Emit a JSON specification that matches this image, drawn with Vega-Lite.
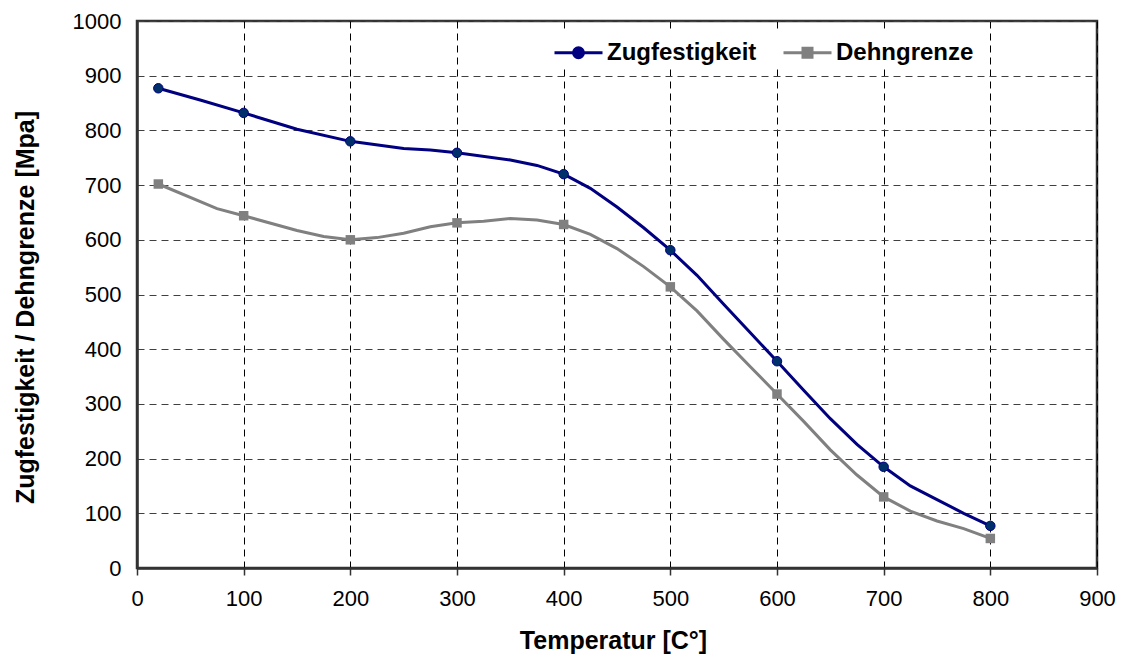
{
  "$schema": "https://vega.github.io/schema/vega-lite/v6.json",
  "width": 960,
  "height": 547,
  "autosize": {"type": "none"},
  "padding": {"left": 137, "top": 21, "right": 24, "bottom": 87},
  "background": "white",
  "config": {
    "font": "Liberation Sans",
    "view": {"stroke": "#333333", "strokeWidth": 2.5}
  },
  "datasets": {
    "kurve": [
      {"Temperatur": 20, "Wert": 877, "Reihe": "Zugfestigkeit"},
      {"Temperatur": 60, "Wert": 855, "Reihe": "Zugfestigkeit"},
      {"Temperatur": 100, "Wert": 832, "Reihe": "Zugfestigkeit"},
      {"Temperatur": 150, "Wert": 802, "Reihe": "Zugfestigkeit"},
      {"Temperatur": 200, "Wert": 780, "Reihe": "Zugfestigkeit"},
      {"Temperatur": 250, "Wert": 767, "Reihe": "Zugfestigkeit"},
      {"Temperatur": 275, "Wert": 764, "Reihe": "Zugfestigkeit"},
      {"Temperatur": 300, "Wert": 759, "Reihe": "Zugfestigkeit"},
      {"Temperatur": 350, "Wert": 746, "Reihe": "Zugfestigkeit"},
      {"Temperatur": 375, "Wert": 736, "Reihe": "Zugfestigkeit"},
      {"Temperatur": 400, "Wert": 720, "Reihe": "Zugfestigkeit"},
      {"Temperatur": 425, "Wert": 694, "Reihe": "Zugfestigkeit"},
      {"Temperatur": 450, "Wert": 660, "Reihe": "Zugfestigkeit"},
      {"Temperatur": 475, "Wert": 622, "Reihe": "Zugfestigkeit"},
      {"Temperatur": 500, "Wert": 581, "Reihe": "Zugfestigkeit"},
      {"Temperatur": 525, "Wert": 535, "Reihe": "Zugfestigkeit"},
      {"Temperatur": 550, "Wert": 482, "Reihe": "Zugfestigkeit"},
      {"Temperatur": 575, "Wert": 430, "Reihe": "Zugfestigkeit"},
      {"Temperatur": 600, "Wert": 378, "Reihe": "Zugfestigkeit"},
      {"Temperatur": 625, "Wert": 325, "Reihe": "Zugfestigkeit"},
      {"Temperatur": 650, "Wert": 273, "Reihe": "Zugfestigkeit"},
      {"Temperatur": 675, "Wert": 226, "Reihe": "Zugfestigkeit"},
      {"Temperatur": 700, "Wert": 185, "Reihe": "Zugfestigkeit"},
      {"Temperatur": 725, "Wert": 150, "Reihe": "Zugfestigkeit"},
      {"Temperatur": 750, "Wert": 125, "Reihe": "Zugfestigkeit"},
      {"Temperatur": 775, "Wert": 100, "Reihe": "Zugfestigkeit"},
      {"Temperatur": 800, "Wert": 77, "Reihe": "Zugfestigkeit"},
      {"Temperatur": 20, "Wert": 702, "Reihe": "Dehngrenze"},
      {"Temperatur": 75, "Wert": 657, "Reihe": "Dehngrenze"},
      {"Temperatur": 100, "Wert": 644, "Reihe": "Dehngrenze"},
      {"Temperatur": 150, "Wert": 617, "Reihe": "Dehngrenze"},
      {"Temperatur": 175, "Wert": 606, "Reihe": "Dehngrenze"},
      {"Temperatur": 200, "Wert": 600, "Reihe": "Dehngrenze"},
      {"Temperatur": 225, "Wert": 604, "Reihe": "Dehngrenze"},
      {"Temperatur": 250, "Wert": 612, "Reihe": "Dehngrenze"},
      {"Temperatur": 275, "Wert": 624, "Reihe": "Dehngrenze"},
      {"Temperatur": 300, "Wert": 631, "Reihe": "Dehngrenze"},
      {"Temperatur": 325, "Wert": 634, "Reihe": "Dehngrenze"},
      {"Temperatur": 350, "Wert": 639, "Reihe": "Dehngrenze"},
      {"Temperatur": 375, "Wert": 636, "Reihe": "Dehngrenze"},
      {"Temperatur": 400, "Wert": 628, "Reihe": "Dehngrenze"},
      {"Temperatur": 425, "Wert": 610, "Reihe": "Dehngrenze"},
      {"Temperatur": 450, "Wert": 584, "Reihe": "Dehngrenze"},
      {"Temperatur": 475, "Wert": 551, "Reihe": "Dehngrenze"},
      {"Temperatur": 500, "Wert": 514, "Reihe": "Dehngrenze"},
      {"Temperatur": 525, "Wert": 470, "Reihe": "Dehngrenze"},
      {"Temperatur": 550, "Wert": 418, "Reihe": "Dehngrenze"},
      {"Temperatur": 575, "Wert": 368, "Reihe": "Dehngrenze"},
      {"Temperatur": 600, "Wert": 318, "Reihe": "Dehngrenze"},
      {"Temperatur": 625, "Wert": 268, "Reihe": "Dehngrenze"},
      {"Temperatur": 650, "Wert": 216, "Reihe": "Dehngrenze"},
      {"Temperatur": 675, "Wert": 170, "Reihe": "Dehngrenze"},
      {"Temperatur": 700, "Wert": 130, "Reihe": "Dehngrenze"},
      {"Temperatur": 725, "Wert": 104, "Reihe": "Dehngrenze"},
      {"Temperatur": 750, "Wert": 86, "Reihe": "Dehngrenze"},
      {"Temperatur": 775, "Wert": 72, "Reihe": "Dehngrenze"},
      {"Temperatur": 800, "Wert": 54, "Reihe": "Dehngrenze"}
    ],
    "messpunkte": [
      {"Temperatur": 20, "Wert": 877, "Reihe": "Zugfestigkeit"},
      {"Temperatur": 100, "Wert": 832, "Reihe": "Zugfestigkeit"},
      {"Temperatur": 200, "Wert": 780, "Reihe": "Zugfestigkeit"},
      {"Temperatur": 300, "Wert": 759, "Reihe": "Zugfestigkeit"},
      {"Temperatur": 400, "Wert": 720, "Reihe": "Zugfestigkeit"},
      {"Temperatur": 500, "Wert": 581, "Reihe": "Zugfestigkeit"},
      {"Temperatur": 600, "Wert": 378, "Reihe": "Zugfestigkeit"},
      {"Temperatur": 700, "Wert": 185, "Reihe": "Zugfestigkeit"},
      {"Temperatur": 800, "Wert": 77, "Reihe": "Zugfestigkeit"},
      {"Temperatur": 20, "Wert": 702, "Reihe": "Dehngrenze"},
      {"Temperatur": 100, "Wert": 644, "Reihe": "Dehngrenze"},
      {"Temperatur": 200, "Wert": 600, "Reihe": "Dehngrenze"},
      {"Temperatur": 300, "Wert": 631, "Reihe": "Dehngrenze"},
      {"Temperatur": 400, "Wert": 628, "Reihe": "Dehngrenze"},
      {"Temperatur": 500, "Wert": 514, "Reihe": "Dehngrenze"},
      {"Temperatur": 600, "Wert": 318, "Reihe": "Dehngrenze"},
      {"Temperatur": 700, "Wert": 130, "Reihe": "Dehngrenze"},
      {"Temperatur": 800, "Wert": 54, "Reihe": "Dehngrenze"}
    ]
  },
  "encoding": {
    "x": {
      "field": "Temperatur",
      "type": "quantitative",
      "scale": {"domain": [0, 900], "nice": false, "zero": false},
      "axis": {
        "values": [0, 100, 200, 300, 400, 500, 600, 700, 800, 900],
        "format": "d",
        "title": "Temperatur [C°]",
        "titleFont": "Liberation Sans",
        "titleFontSize": 25,
        "titleFontWeight": "bold",
        "titleColor": "#000000",
        "titleX": 476,
        "titleY": 80,
        "titleAlign": "center",
        "titleBaseline": "alphabetic",
        "labelFontSize": 22,
        "labelColor": "#000000",
        "labelPadding": 13,
        "labelFlush": false,
        "tickSize": 7,
        "tickColor": "#333333",
        "tickWidth": 1.5,
        "domainColor": "#333333",
        "domainWidth": 2.5,
        "grid": true,
        "gridColor": "#000000",
        "gridWidth": 1,
        "gridDash": [7, 5]
      }
    },
    "y": {
      "field": "Wert",
      "type": "quantitative",
      "scale": {"domain": [0, 1000], "nice": false},
      "axis": {
        "values": [0, 100, 200, 300, 400, 500, 600, 700, 800, 900, 1000],
        "format": "d",
        "title": "Zugfestigkeit / Dehngrenze [Mpa]",
        "titleFont": "Liberation Sans",
        "titleFontSize": 25,
        "titleFontWeight": "bold",
        "titleColor": "#000000",
        "titleAngle": 270,
        "titleX": -104,
        "titleY": 286,
        "titleAlign": "center",
        "titleBaseline": "alphabetic",
        "labelFontSize": 22,
        "labelColor": "#000000",
        "labelPadding": 16,
        "labelFlush": false,
        "ticks": false,
        "domainColor": "#333333",
        "domainWidth": 2.5,
        "grid": true,
        "gridColor": "#404040",
        "gridWidth": 1,
        "gridDash": [7, 5]
      }
    },
    "color": {
      "field": "Reihe",
      "type": "nominal",
      "scale": {"domain": ["Zugfestigkeit", "Dehngrenze"], "range": ["#000080", "#808080"]},
      "legend": {
        "orient": "none",
        "direction": "horizontal",
        "legendX": 422,
        "legendY": 12,
        "title": null,
        "fillColor": "white",
        "padding": 3,
        "symbolSize": 900,
        "symbolStrokeWidth": 3,
        "labelFont": "Liberation Sans",
        "labelFontSize": 24,
        "labelFontWeight": "bold",
        "labelColor": "#000000",
        "labelOffset": 12,
        "columnPadding": 20,
        "labelLimit": 400,
        "encode": {
          "symbols": {
            "update": {
              "shape": {"signal": "datum.value === 'Zugfestigkeit' ? 'M-1.6,0L1.6,0M-0.333,0A0.333,0.333,0,1,1,0.333,0A0.333,0.333,0,1,1,-0.333,0Z' : 'M-1.6,0L1.6,0M-0.3,-0.3L0.3,-0.3L0.3,0.3L-0.3,0.3Z'"},
              "size": {"value": 900},
              "strokeWidth": {"value": 3},
              "fill": {"signal": "datum.value === 'Zugfestigkeit' ? '#00306a' : '#808080'"},
              "stroke": {"signal": "datum.value === 'Zugfestigkeit' ? '#000080' : '#808080'"},
              "opacity": {"value": 1},
              "fillOpacity": {"value": 1},
              "strokeOpacity": {"value": 1}
            }
          }
        }
      }
    }
  },
  "layer": [
    {
      "data": {"name": "kurve"},
      "mark": {"type": "line", "strokeWidth": 3, "interpolate": "linear"}
    },
    {
      "data": {"name": "messpunkte"},
      "transform": [{"filter": "datum.Reihe === 'Zugfestigkeit'"}],
      "mark": {"type": "point", "shape": "circle", "filled": true, "opacity": 1, "size": 90, "strokeWidth": 1, "fill": "#00306a", "stroke": "#000080"}
    },
    {
      "data": {"name": "messpunkte"},
      "transform": [{"filter": "datum.Reihe === 'Dehngrenze'"}],
      "mark": {"type": "point", "shape": "square", "filled": true, "opacity": 1, "size": 90, "strokeWidth": 1}
    }
  ]
}
